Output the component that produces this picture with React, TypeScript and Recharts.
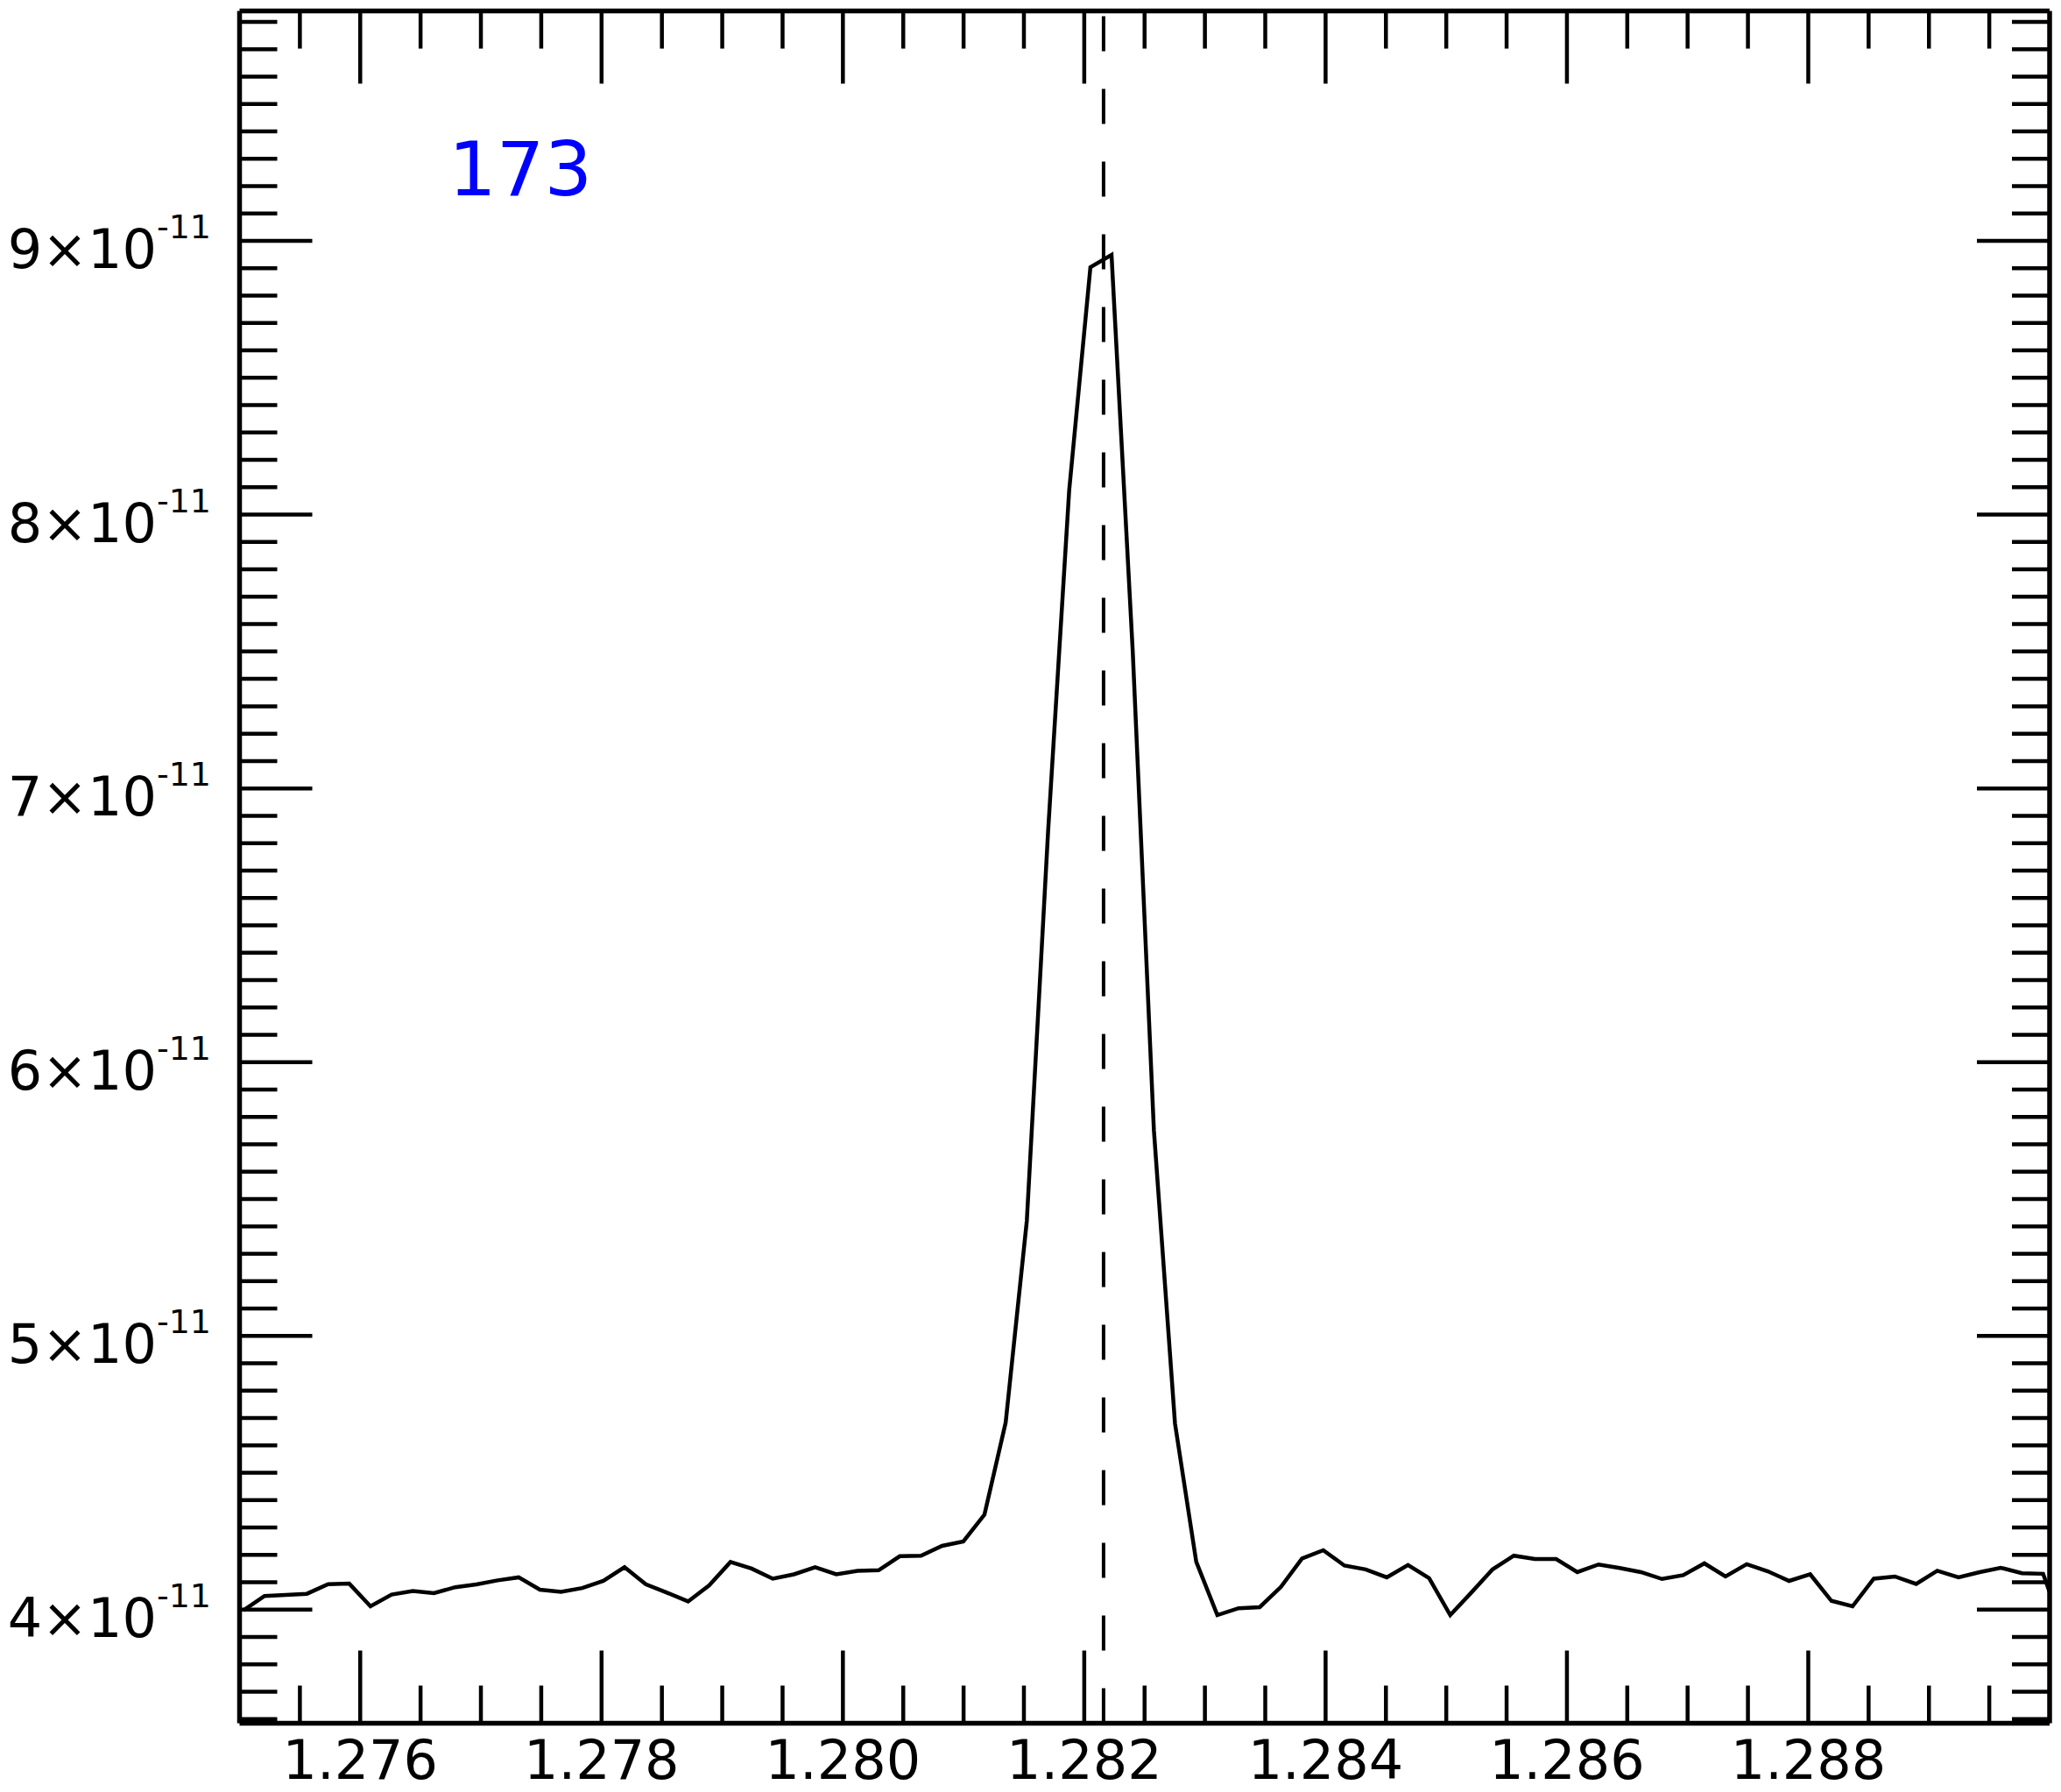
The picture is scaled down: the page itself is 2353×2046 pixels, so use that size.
import React from 'react';
import { LineChart, Line, XAxis, YAxis, ReferenceLine } from 'recharts';

// wavelength (micron) of each sample
const wavelength = [
  1.275032, 1.275207, 1.275383, 1.275558, 1.275734, 1.275909, 1.276085, 1.27626, 1.276436, 1.276611,
  1.276787, 1.276962, 1.277138, 1.277313, 1.277489, 1.277664, 1.27784, 1.278015, 1.27819, 1.278366,
  1.278541, 1.278717, 1.278892, 1.279068, 1.279243, 1.279419, 1.279594, 1.27977, 1.279945, 1.280121,
  1.280296, 1.280471, 1.280647, 1.280822, 1.280998, 1.281173, 1.281349, 1.281524, 1.2817, 1.281875,
  1.282051, 1.282226, 1.282402, 1.282577, 1.282752, 1.282928, 1.283103, 1.283279, 1.283454, 1.28363,
  1.283805, 1.283981, 1.284156, 1.284332, 1.284507, 1.284683, 1.284858, 1.285033, 1.285209, 1.285384,
  1.28556, 1.285735, 1.285911, 1.286086, 1.286262, 1.286437, 1.286613, 1.286788, 1.286964, 1.287139,
  1.287314, 1.28749, 1.287665, 1.287841, 1.288016, 1.288192, 1.288367, 1.288543, 1.288718, 1.288894,
  1.289069, 1.289245, 1.28942, 1.289595, 1.289771, 1.289946, 1.290122,
];

// flux, in units of 1e-11
const flux = [
  3.997, 4.05, 4.054, 4.058, 4.093, 4.095, 4.012, 4.055, 4.068, 4.06,
  4.082, 4.092, 4.107, 4.118, 4.073, 4.065, 4.079, 4.105, 4.155, 4.093,
  4.062, 4.03, 4.089, 4.174, 4.15, 4.113, 4.129, 4.155, 4.129, 4.142,
  4.144, 4.195, 4.197, 4.233, 4.249, 4.347, 4.684, 5.42, 6.84, 8.088,
  8.904, 8.949, 7.499, 5.752, 4.68, 4.175, 3.98, 4.005, 4.009, 4.083,
  4.187, 4.217, 4.161, 4.147, 4.118, 4.163, 4.115, 3.98, 4.063, 4.147,
  4.197, 4.185, 4.185, 4.137, 4.165, 4.152, 4.137, 4.112, 4.126, 4.169,
  4.121, 4.166, 4.14, 4.105, 4.129, 4.032, 4.012, 4.113, 4.121, 4.094,
  4.142, 4.118, 4.137, 4.153, 4.133, 4.131, 3.912,
];

const lineCenter = 1.28216;
const lineLabel = '173';
const xMajorTicks = [1.276, 1.278, 1.28, 1.282, 1.284, 1.286, 1.288];
const yMajorTicks = [4, 5, 6, 7, 8, 9];
const yExponent = '-11';

const xDomain = [1.275, 1.29];
const yDomain = [3.585, 9.84];

const data = wavelength.map((w, i) => ({ w, f: flux[i] }));

// minor ticks: every 0.0005 in x, every 0.1 in y
const xTicks: number[] = [];
for (let i = 0; i <= 28; i++) xTicks.push(Math.round((1.2755 + i * 0.0005) * 1e4) / 1e4);
const yTicks: number[] = [];
for (let i = 0; i <= 62; i++) yTicks.push(Math.round((3.6 + i * 0.1) * 10) / 10);

const FONT = 'DejaVu Sans';
const TICK_W = 4.5;
const MAJOR = 83;
const MINOR = 43;
const axisLine = { stroke: '#000', strokeWidth: 5.5 };

const near = (v: number, list: number[]) => list.some((b) => Math.abs(v - b) < 1e-7);

function BottomTick(props: any) {
  const { x, y, payload } = props;
  const major = near(payload.value, xMajorTicks);
  return (
    <g>
      <line x1={x} x2={x} y1={y} y2={y - (major ? MAJOR : MINOR)} stroke="#000" strokeWidth={TICK_W} />
      {major && (
        <text x={x} y={y + 63} textAnchor="middle" fontFamily={FONT} fontSize={62} fill="#000">
          {payload.value.toFixed(3)}
        </text>
      )}
    </g>
  );
}

function TopTick(props: any) {
  const { x, y, payload } = props;
  const major = near(payload.value, xMajorTicks);
  return <line x1={x} x2={x} y1={y} y2={y + (major ? MAJOR : MINOR)} stroke="#000" strokeWidth={TICK_W} />;
}

function LeftTick(props: any) {
  const { x, y, payload } = props;
  const major = near(payload.value, yMajorTicks);
  return (
    <g>
      <line x1={x} x2={x + (major ? MAJOR : MINOR)} y1={y} y2={y} stroke="#000" strokeWidth={TICK_W} />
      {major && (
        <text x={241} y={y + 31} textAnchor="end" fontFamily={FONT} fontSize={62} fill="#000">
          <tspan>{`${Math.round(payload.value)}×10`}</tspan>
          <tspan dy={-34} fontSize={38}>{yExponent}</tspan>
        </text>
      )}
    </g>
  );
}

function RightTick(props: any) {
  const { x, y, payload } = props;
  const major = near(payload.value, yMajorTicks);
  return <line x1={x - (major ? MAJOR : MINOR)} x2={x} y1={y} y2={y} stroke="#000" strokeWidth={TICK_W} />;
}

export default function App() {
  return (
    <div style={{ position: 'absolute', left: 0, top: 0, width: 2353, height: 2046, background: '#fff' }}>
      <LineChart width={2353} height={2046} data={data} margin={{ top: 11.5, right: 12, bottom: 0, left: 0 }}>
        <XAxis
          xAxisId="b"
          orientation="bottom"
          type="number"
          dataKey="w"
          domain={xDomain}
          allowDataOverflow
          ticks={xTicks}
          interval={0}
          tickSize={0}
          tickMargin={0}
          tickLine={false}
          axisLine={axisLine}
          tick={BottomTick}
          height={78.5}
        />
        <XAxis
          xAxisId="t"
          orientation="top"
          type="number"
          dataKey="w"
          domain={xDomain}
          allowDataOverflow
          ticks={xTicks}
          interval={0}
          tickSize={0}
          tickMargin={0}
          tickLine={false}
          axisLine={axisLine}
          tick={TopTick}
          height={1}
        />
        <YAxis
          yAxisId="l"
          orientation="left"
          type="number"
          domain={yDomain}
          allowDataOverflow
          ticks={yTicks}
          interval={0}
          tickSize={0}
          tickMargin={0}
          tickLine={false}
          axisLine={axisLine}
          tick={LeftTick}
          width={273.5}
        />
        <YAxis
          yAxisId="r"
          orientation="right"
          type="number"
          domain={yDomain}
          allowDataOverflow
          ticks={yTicks}
          interval={0}
          tickSize={0}
          tickMargin={0}
          tickLine={false}
          axisLine={axisLine}
          tick={RightTick}
          width={1}
        />
        <ReferenceLine
          xAxisId="b"
          yAxisId="l"
          x={lineCenter}
          stroke="#000"
          strokeWidth={4}
          strokeDasharray="40 43"
        />
        <Line
          xAxisId="t"
          yAxisId="r"
          dataKey="f"
          type="linear"
          stroke="none"
          dot={false}
          activeDot={false}
          isAnimationActive={false}
        />
        <Line
          xAxisId="b"
          yAxisId="l"
          dataKey="f"
          type="linear"
          stroke="#000"
          strokeWidth={4.5}
          strokeLinejoin="miter"
          dot={false}
          activeDot={false}
          isAnimationActive={false}
        />
      </LineChart>
      <svg width={2353} height={2046} style={{ position: 'absolute', left: 0, top: 0, pointerEvents: 'none' }}>
        <text x={512} y={223} fontFamily={FONT} fontSize={86} fill="#0000ff">
          {lineLabel}
        </text>
      </svg>
    </div>
  );
}
